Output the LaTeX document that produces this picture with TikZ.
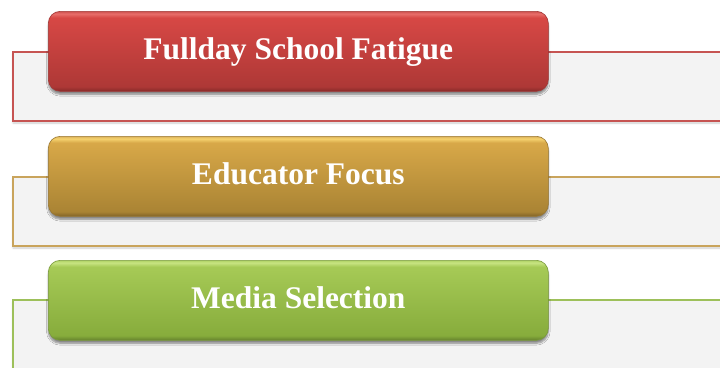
\documentclass[tikz,border=0pt]{standalone}
\usepackage{fontspec}
\setmainfont{Liberation Serif}
\usetikzlibrary{shadows.blur}

% palette
\definecolor{panelfill}{HTML}{F3F3F3}
\definecolor{redline}{HTML}{C65452}
\definecolor{goldline}{HTML}{C9A45C}
\definecolor{greenline}{HTML}{9DC05A}
\definecolor{rededge}{HTML}{A23836}
\definecolor{goldedge}{HTML}{9A7832}
\definecolor{greenedge}{HTML}{7A9A3C}

% bevelled vertical fills for the banners (path spans 25bp..75bp)
\pgfdeclareverticalshading{redbar}{100bp}{%
  color(0bp)=(rgb,255:red,135;green,42;blue,40); color(25bp)=(rgb,255:red,135;green,42;blue,40);
  color(28bp)=(rgb,255:red,174;green,56;blue,54);
  color(71bp)=(rgb,255:red,215;green,72;blue,69);
  color(73.5bp)=(rgb,255:red,232;green,110;blue,106);
  color(75bp)=(rgb,255:red,205;green,80;blue,77);
  color(100bp)=(rgb,255:red,205;green,80;blue,77)}
\pgfdeclareverticalshading{goldbar}{100bp}{%
  color(0bp)=(rgb,255:red,130;green,100;blue,40); color(25bp)=(rgb,255:red,130;green,100;blue,40);
  color(28bp)=(rgb,255:red,170;green,132;blue,52);
  color(71bp)=(rgb,255:red,216;green,168;blue,72);
  color(73.5bp)=(rgb,255:red,245;green,210;blue,110);
  color(75bp)=(rgb,255:red,220;green,178;blue,90);
  color(100bp)=(rgb,255:red,220;green,178;blue,90)}
\pgfdeclareverticalshading{greenbar}{100bp}{%
  color(0bp)=(rgb,255:red,100;green,130;blue,45); color(25bp)=(rgb,255:red,100;green,130;blue,45);
  color(28bp)=(rgb,255:red,135;green,172;blue,60);
  color(71bp)=(rgb,255:red,166;green,202;blue,86);
  color(73.5bp)=(rgb,255:red,200;green,228;blue,130);
  color(75bp)=(rgb,255:red,175;green,210;blue,100);
  color(100bp)=(rgb,255:red,175;green,210;blue,100)}

\tikzset{
  panel/.style={draw=#1, line width=2pt, fill=panelfill, anchor=north west,
    minimum width=740pt, minimum height=69pt, inner sep=0pt,
    blur shadow={shadow xshift=0pt, shadow yshift=-2pt, shadow blur steps=4, shadow opacity=20}},
  banner/.style 2 args={shading=#1, draw=#2, line width=0.6pt, rounded corners=12pt,
    anchor=north west, minimum width=500pt, minimum height=80pt, inner sep=0pt,
    text=white, text height=21pt, text depth=5pt,
    font=\fontsize{31.5}{36}\selectfont\bfseries,
    blur shadow={shadow xshift=0pt, shadow yshift=-3pt, shadow blur steps=6, shadow opacity=45}},
}

\begin{document}
\begin{tikzpicture}[x=1pt, y=-1pt]
  \useasboundingbox (0,0) rectangle (720,367);
  \clip (0,0) rectangle (720,367);

  % background panels
  \node[panel=redline]   (panel1) at (12,51)  {};
  \node[panel=goldline]  (panel2) at (12,176) {};
  \node[panel=greenline] (panel3) at (12,299) {};

  % title banners
  \node[banner={redbar}{rededge}]     (title1) at (48,11)  {Fullday School Fatigue};
  \node[banner={goldbar}{goldedge}]   (title2) at (48,136) {Educator Focus};
  \node[banner={greenbar}{greenedge}] (title3) at (48,260) {Media Selection};
\end{tikzpicture}
\end{document}
